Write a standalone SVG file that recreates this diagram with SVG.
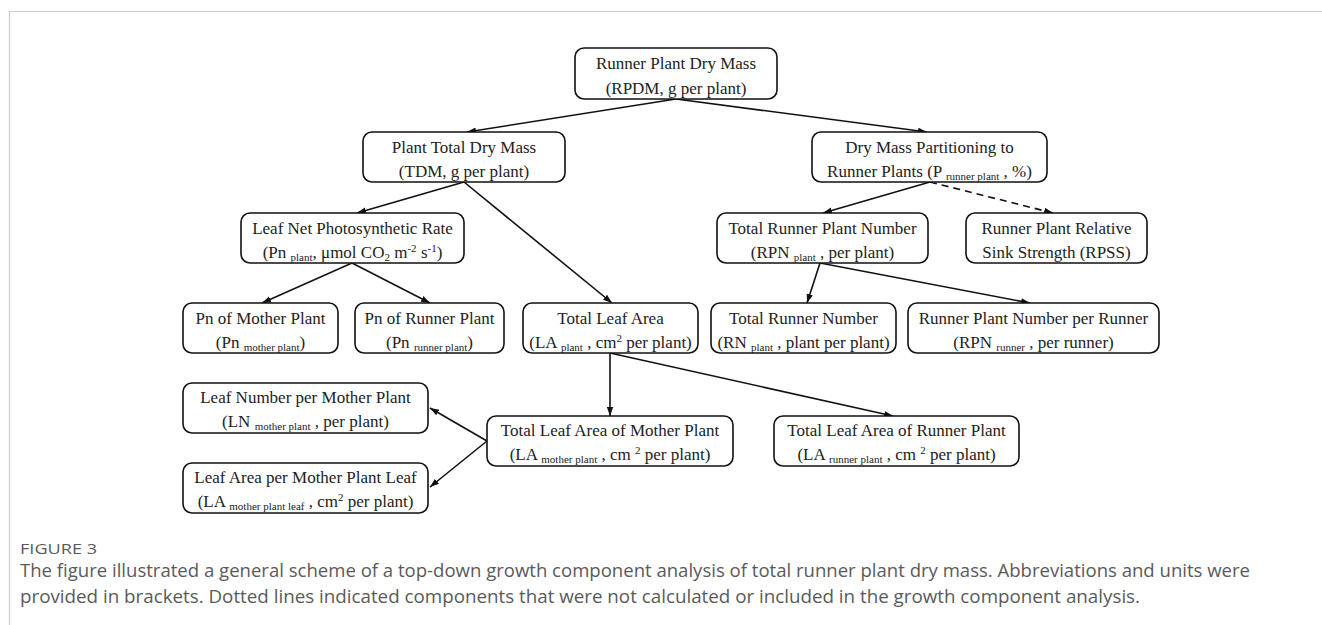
<svg xmlns="http://www.w3.org/2000/svg" width="1322" height="625" viewBox="0 0 1322 625">
<style>
.box{fill:#fff;stroke:#111;stroke-width:1.6}
.t{font-family:"Liberation Serif","Times New Roman",serif;font-size:17px;fill:#222;text-anchor:middle}
.s{font-size:11px}
.c{stroke:#111;stroke-width:1.6;fill:none;marker-end:url(#ah)}
.d{stroke-dasharray:7,5}
.cap{font-family:"Open Sans","Noto Sans",sans-serif;fill:#5a5a5a}
</style>
<defs>
<marker id="ah" markerUnits="userSpaceOnUse" markerWidth="10" markerHeight="8" refX="9" refY="4" orient="auto">
<path d="M0,0.8 L9,4 L0,7.2 z" fill="#111"/>
</marker>
</defs>
<rect width="1322" height="625" fill="#fff"/>
<path d="M9.5,625 V11.5 H1322" fill="none" stroke="#ccc" stroke-width="1.2"/>

<g id="connectors">
<line class="c" x1="676" y1="99" x2="467" y2="132"/>
<line class="c" x1="676" y1="99" x2="927" y2="132"/>
<line class="c" x1="464" y1="182" x2="357" y2="213"/>
<line class="c" x1="464" y1="182" x2="612" y2="303"/>
<line class="c" x1="930" y1="182" x2="823" y2="213"/>
<line class="c d" x1="930" y1="182" x2="1053" y2="213"/>
<line class="c" x1="352" y1="263" x2="262" y2="303"/>
<line class="c" x1="352" y1="263" x2="430" y2="303"/>
<line class="c" x1="820" y1="263" x2="807" y2="303"/>
<line class="c" x1="820" y1="263" x2="1030" y2="303"/>
<line class="c" x1="610" y1="353" x2="610" y2="416"/>
<line class="c" x1="610" y1="353" x2="893" y2="416"/>
<line class="c" x1="487" y1="441" x2="430" y2="408"/>
<line class="c" x1="487" y1="441" x2="430" y2="487"/>
</g>

<g id="rpdm"><rect class="box" x="575" y="48" width="202" height="51" rx="9"/>
<text class="t" x="676" y="69">Runner Plant Dry Mass</text>
<text class="t" x="676" y="94">(RPDM, g per plant)</text></g>

<g id="tdm"><rect class="box" x="363" y="132" width="202" height="50" rx="9"/>
<text class="t" x="464" y="153">Plant Total Dry Mass</text>
<text class="t" x="464" y="177">(TDM, g per plant)</text></g>

<g id="dmp"><rect class="box" x="812" y="132" width="235" height="50" rx="9"/>
<text class="t" x="929.5" y="153">Dry Mass Partitioning to</text>
<text class="t" x="929.5" y="177">Runner Plants (P <tspan class="s" dy="3">runner plant</tspan><tspan dy="-3"> , %)</tspan></text></g>

<g id="lnpr"><rect class="box" x="241" y="213" width="223" height="50" rx="9"/>
<text class="t" x="352.5" y="234">Leaf Net Photosynthetic Rate</text>
<text class="t" x="352.5" y="258">(Pn <tspan class="s" dy="3">plant</tspan><tspan dy="-3">, μmol CO</tspan><tspan class="s" dy="3">2</tspan><tspan dy="-3"> m</tspan><tspan class="s" dy="-6">-2</tspan><tspan dy="6"> s</tspan><tspan class="s" dy="-6">-1</tspan><tspan dy="6">)</tspan></text></g>

<g id="trpn"><rect class="box" x="717" y="213" width="211" height="50" rx="9"/>
<text class="t" x="822.5" y="234">Total Runner Plant Number</text>
<text class="t" x="822.5" y="258">(RPN <tspan class="s" dy="3">plant</tspan><tspan dy="-3"> , per plant)</tspan></text></g>

<g id="rpss"><rect class="box" x="966" y="213" width="181" height="50" rx="9"/>
<text class="t" x="1056.5" y="234">Runner Plant Relative</text>
<text class="t" x="1056.5" y="258">Sink Strength (RPSS)</text></g>

<g id="pnm"><rect class="box" x="183" y="303" width="155" height="50" rx="9"/>
<text class="t" x="260.5" y="324">Pn of Mother Plant</text>
<text class="t" x="260.5" y="348">(Pn <tspan class="s" dy="3">mother plant</tspan><tspan dy="-3">)</tspan></text></g>

<g id="pnr"><rect class="box" x="355" y="303" width="149" height="50" rx="9"/>
<text class="t" x="429.5" y="324">Pn of Runner Plant</text>
<text class="t" x="429.5" y="348">(Pn <tspan class="s" dy="3">runner plant</tspan><tspan dy="-3">)</tspan></text></g>

<g id="tla"><rect class="box" x="523" y="303" width="175" height="50" rx="9"/>
<text class="t" x="610.5" y="324">Total Leaf Area</text>
<text class="t" x="610.5" y="348">(LA <tspan class="s" dy="3">plant</tspan><tspan dy="-3"> , cm</tspan><tspan class="s" dy="-6">2</tspan><tspan dy="6"> per plant)</tspan></text></g>

<g id="trn"><rect class="box" x="711" y="303" width="185" height="50" rx="9"/>
<text class="t" x="803.5" y="324">Total Runner Number</text>
<text class="t" x="803.5" y="348">(RN <tspan class="s" dy="3">plant</tspan><tspan dy="-3"> , plant per plant)</tspan></text></g>

<g id="rpnr"><rect class="box" x="908" y="303" width="251" height="50" rx="9"/>
<text class="t" x="1033.5" y="324">Runner Plant Number per Runner</text>
<text class="t" x="1033.5" y="348">(RPN <tspan class="s" dy="3">runner</tspan><tspan dy="-3"> , per runner)</tspan></text></g>

<g id="lnmp"><rect class="box" x="183" y="383" width="245" height="50" rx="9"/>
<text class="t" x="305.5" y="403">Leaf Number per Mother Plant</text>
<text class="t" x="305.5" y="427">(LN <tspan class="s" dy="3">mother plant</tspan><tspan dy="-3"> , per plant)</tspan></text></g>

<g id="lampl"><rect class="box" x="183" y="463" width="245" height="50" rx="9"/>
<text class="t" x="305.5" y="483">Leaf Area per Mother Plant Leaf</text>
<text class="t" x="305.5" y="507">(LA <tspan class="s" dy="3">mother plant leaf</tspan><tspan dy="-3"> , cm</tspan><tspan class="s" dy="-6">2</tspan><tspan dy="6"> per plant)</tspan></text></g>

<g id="tlam"><rect class="box" x="487" y="416" width="246" height="50" rx="9"/>
<text class="t" x="610" y="436">Total Leaf Area of Mother Plant</text>
<text class="t" x="610" y="460">(LA <tspan class="s" dy="3">mother plant</tspan><tspan dy="-3"> , cm </tspan><tspan class="s" dy="-6">2</tspan><tspan dy="6"> per plant)</tspan></text></g>

<g id="tlar"><rect class="box" x="774" y="416" width="245" height="50" rx="9"/>
<text class="t" x="896.5" y="436">Total Leaf Area of Runner Plant</text>
<text class="t" x="896.5" y="460">(LA <tspan class="s" dy="3">runner plant</tspan><tspan dy="-3"> , cm </tspan><tspan class="s" dy="-6">2</tspan><tspan dy="6"> per plant)</tspan></text></g>

<g id="caption">
<text class="cap" x="20" y="554" font-size="15" textLength="77" lengthAdjust="spacingAndGlyphs">FIGURE 3</text>
<text class="cap" x="20" y="577" font-size="18.5" textLength="1230" lengthAdjust="spacingAndGlyphs">The figure illustrated a general scheme of a top-down growth component analysis of total runner plant dry mass. Abbreviations and units were</text>
<text class="cap" x="20" y="603" font-size="18.5" textLength="1120" lengthAdjust="spacingAndGlyphs">provided in brackets. Dotted lines indicated components that were not calculated or included in the growth component analysis.</text>
</g>
</svg>
